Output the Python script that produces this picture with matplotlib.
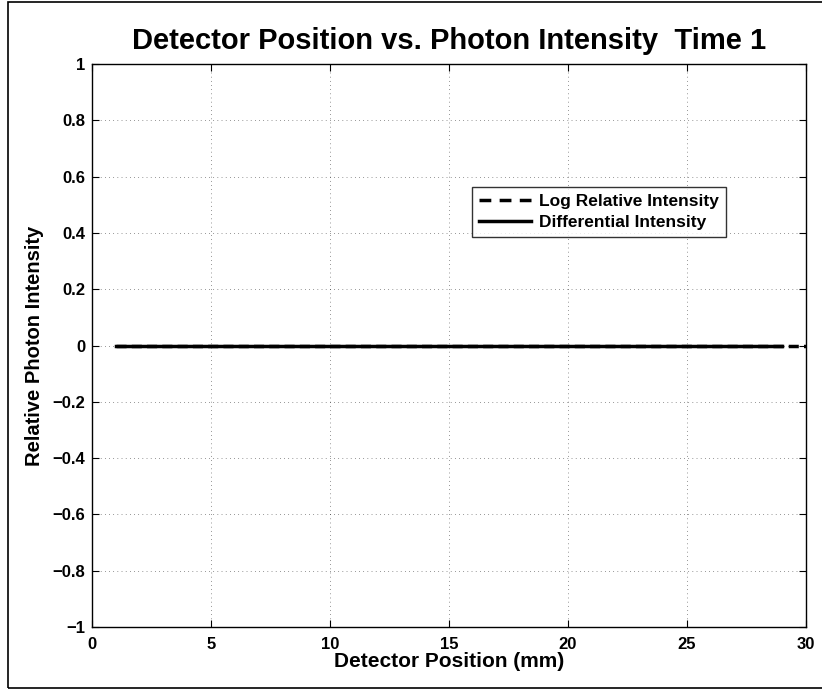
import matplotlib
matplotlib.use("Agg")
import matplotlib.pyplot as plt
from matplotlib.patches import Rectangle
from matplotlib.lines import Line2D

plt.rcParams['font.family'] = ['Liberation Sans', 'DejaVu Sans']
plt.rcParams['font.weight'] = 'bold'

# Data
log_x = [1, 2, 3, 4, 5, 6, 7, 8, 9, 10, 11, 12, 13, 14, 15, 16, 17, 18, 19, 20,
         21, 22, 23, 24, 25, 26, 27, 28, 29, 30]
log_y = [0, 0, 0, 0, 0, 0, 0, 0, 0, 0, 0, 0, 0, 0, 0, 0, 0, 0, 0, 0,
         0, 0, 0, 0, 0, 0, 0, 0, 0, 0]
diff_x = [1, 2, 3, 4, 5, 6, 7, 8, 9, 10, 11, 12, 13, 14, 15, 16, 17, 18, 19, 20,
          21, 22, 23, 24, 25, 26, 27, 28, 29]
diff_y = [0, 0, 0, 0, 0, 0, 0, 0, 0, 0, 0, 0, 0, 0, 0, 0, 0, 0, 0, 0,
          0, 0, 0, 0, 0, 0, 0, 0, 0]
x_ticks = [0, 5, 10, 15, 20, 25, 30]
y_ticks = [-1, -0.8, -0.6, -0.4, -0.2, 0, 0.2, 0.4, 0.6, 0.8, 1]
y_labels = ['\u22121', '\u22120.8', '\u22120.6', '\u22120.4', '\u22120.2', '0',
            '0.2', '0.4', '0.6', '0.8', '1']

W, H = 822, 689
fig = plt.figure(figsize=(W / 100, H / 100), dpi=100)
fig.patches.append(Rectangle((8 / W, 1.5 / H), 1.2, (H - 3.5) / H, transform=fig.transFigure,
                             fill=False, edgecolor='black', linewidth=1.2))

ax = fig.add_axes([92 / W, 1 - 627 / H, (806 - 92) / W, (627 - 64) / H])
ax.plot(log_x, log_y, color='black', linestyle=(0, (2.9, 1.5)), linewidth=2.5)
ax.plot(diff_x, diff_y, color='black', linestyle='-', linewidth=2.5)

ax.set_xlim(0, 30)
ax.set_ylim(-1, 1)
ax.set_xticks(x_ticks)
ax.set_yticks(y_ticks)
ax.set_yticklabels(y_labels)
ax.tick_params(direction='in', top=True, right=True, labelsize=12, length=5, width=0.8)
ax.tick_params(axis='x', pad=7)
ax.tick_params(axis='y', pad=5)
for lab in ax.get_xticklabels() + ax.get_yticklabels():
    lab.set_fontweight('bold')
ax.grid(True, color='black', linestyle=(0, (1, 5)), linewidth=0.5, alpha=0.8)
for s in ax.spines.values():
    s.set_linewidth(1.0)

ax.set_title('Detector Position vs. Photon Intensity  Time 1', fontsize=21,
             fontweight='bold', pad=11)
ax.set_xlabel('Detector Position (mm)', fontsize=15, fontweight='bold', labelpad=0)
ax.set_ylabel('Relative Photon Intensity', fontsize=14.5, fontweight='bold', labelpad=6)

handles = [Line2D([], [], color='black', linestyle=(0, (3.4, 2.4)), linewidth=2.5),
           Line2D([], [], color='black', linestyle='-', linewidth=2.5)]
labels = ['Log Relative Intensity', 'Differential Intensity']
leg = ax.legend(handles, labels, loc='upper left',
                bbox_to_anchor=((472 - 92) / (806 - 92), 1 - (187 - 64) / (627 - 64)),
                frameon=True, fancybox=False, fontsize=12.5, handlelength=3.0,
                borderpad=0.4, labelspacing=0.35, handletextpad=0.45, borderaxespad=0)
leg.get_frame().set_edgecolor('black')
leg.get_frame().set_linewidth(1.0)
for t in leg.get_texts():
    t.set_fontweight('bold')

fig.savefig('out.png', dpi=100)
